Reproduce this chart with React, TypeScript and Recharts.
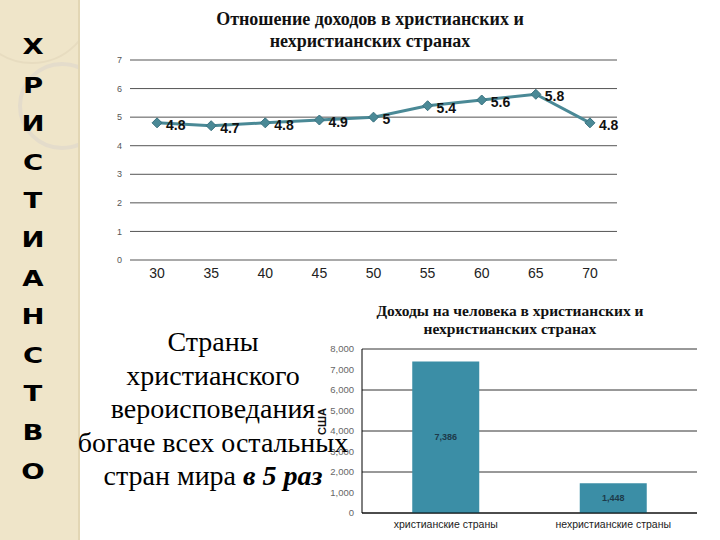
import { LineChart, Line, BarChart, Bar, XAxis, YAxis, CartesianGrid, LabelList } from 'recharts';

const years = ['30', '35', '40', '45', '50', '55', '60', '65', '70'];
const ratio = [4.8, 4.7, 4.8, 4.9, 5, 5.4, 5.6, 5.8, 4.8];
const ratioTicks = [0, 1, 2, 3, 4, 5, 6, 7];

const groups = ['христианские страны', 'нехристианские страны'];
const income = [7386, 1448];
const incomeTicks = [0, 1000, 2000, 3000, 4000, 5000, 6000, 7000, 8000];

const sideWord = 'ХРИСТИАНСТВО';

const lineData = years.map((year, i) => ({ year, value: ratio[i] }));
const barData = groups.map((name, i) => ({ name, value: income[i] }));

const TEAL = '#4a8996';
const BAR = '#3b8ea6';
const serif = '"Liberation Serif", "Times New Roman", serif';
const sans = '"Liberation Sans", Arial, sans-serif';

const Diamond = (props: any) => {
  const { cx, cy, index } = props;
  if (cx == null || cy == null) return null;
  const r = 5;
  return (
    <path
      key={index}
      d={`M${cx},${cy - r}L${cx + r},${cy}L${cx},${cy + r}L${cx - r},${cy}Z`}
      fill={TEAL}
      stroke="#3a7280"
      strokeWidth={1}
    />
  );
};

const fmt = (v: number) => v.toLocaleString('en-US');

export default function App() {
  return (
    <div style={{ position: 'absolute', left: 0, top: 0, width: 720, height: 540, background: '#fff', overflow: 'hidden' }}>
      {/* left stripe */}
      <div style={{ position: 'absolute', left: 0, top: 0, width: 78, height: 540, background: '#efe5c9', borderRight: '2px solid #e2d6b4' }} />
      <div style={{ position: 'absolute', left: 0, top: 0, width: 78, height: 540, overflow: 'hidden' }}>
        <div style={{ position: 'absolute', left: 18, top: 62, width: 80, height: 80, borderRadius: '50%', border: '4px solid #e4dccb' }} />
        <div style={{ position: 'absolute', left: -30, top: -60, width: 120, height: 120, borderRadius: '50%', border: '2px solid #e7dcc0' }} />
      </div>
      <div style={{ position: 'absolute', left: 12, top: 28, width: 42, textAlign: 'center', fontFamily: '"DejaVu Sans", sans-serif', fontWeight: 'bold', fontSize: 22, lineHeight: '38.6px', color: '#000' }}>
        {sideWord.split('').map((ch, i) => (
          <div key={i} style={{ transform: 'scaleX(1.25)' }}>{ch}</div>
        ))}
      </div>

      {/* line chart */}
      <div style={{ position: 'absolute', left: 160, top: 8, width: 420, textAlign: 'center', fontFamily: serif, fontWeight: 'bold', fontSize: 18, lineHeight: '22px', color: '#111' }}>
        Отношение доходов в христианских и<br />нехристианских странах
      </div>
      <div style={{ position: 'absolute', left: 100, top: 0 }}>
        <LineChart width={530} height={300} data={lineData} margin={{ top: 60, right: 13, bottom: 10, left: 0 }}>
          <CartesianGrid vertical={false} stroke="#555" />
          <XAxis dataKey="year" scale="band" axisLine={false} tickLine={false} height={30}
            tick={{ fill: '#222', fontSize: 14, fontFamily: sans }} />
          <YAxis domain={[0, 7]} ticks={ratioTicks} width={30} axisLine={false} tickLine={false}
            tick={{ fill: '#555', fontSize: 9, fontFamily: sans }} />
          <Line dataKey="value" stroke={TEAL} strokeWidth={3} dot={<Diamond />} isAnimationActive={false}>
            <LabelList dataKey="value" position="right" offset={9} dy={2}
              style={{ fill: '#111', fontSize: 14, fontWeight: 'bold', fontFamily: sans }} />
          </Line>
        </LineChart>
      </div>

      {/* text */}
      <div style={{ position: 'absolute', left: 40, top: 325, width: 346, textAlign: 'center', fontFamily: serif, fontSize: 28, lineHeight: '33.5px', color: '#000', zIndex: 2 }}>
        Страны<br />христианского<br />вероисповедания<br />богаче всех остальных<br />стран мира <b><i>в 5 раз</i></b>
      </div>

      {/* bar chart */}
      <div style={{ position: 'absolute', left: 340, top: 302, width: 340, textAlign: 'center', fontFamily: serif, fontWeight: 'bold', fontSize: 15.5, lineHeight: '18px', color: '#111' }}>
        Доходы на человека в христианских и<br />нехристианских странах
      </div>
      <div style={{ position: 'absolute', left: 310, top: 290 }}>
        <BarChart width={400} height={250} data={barData} margin={{ top: 59, right: 13, bottom: 7, left: 0 }} barCategoryGap="30%">
          <CartesianGrid vertical={false} stroke="#333" />
          <XAxis dataKey="name" axisLine={{ stroke: '#000' }} tickLine={false} height={20}
            tick={{ fill: '#222', fontSize: 10.5, fontFamily: sans }} />
          <YAxis domain={[0, 8000]} ticks={incomeTicks} width={52} axisLine={{ stroke: '#000' }} tickLine={false}
            tickFormatter={fmt} tick={{ fill: '#666', fontSize: 9.5, fontFamily: sans }}
            label={{ value: 'США', angle: -90, position: 'insideLeft', offset: 12, dy: 4, style: { fill: '#111', fontSize: 11, fontWeight: 'bold', fontFamily: sans } }} />
          <Bar dataKey="value" fill={BAR} isAnimationActive={false}>
            <LabelList dataKey="value" position="center" formatter={(v: any) => fmt(Number(v))}
              style={{ fill: '#1d3a4a', fontSize: 9, fontWeight: 'bold', fontFamily: sans }} />
          </Bar>
        </BarChart>
      </div>
    </div>
  );
}
